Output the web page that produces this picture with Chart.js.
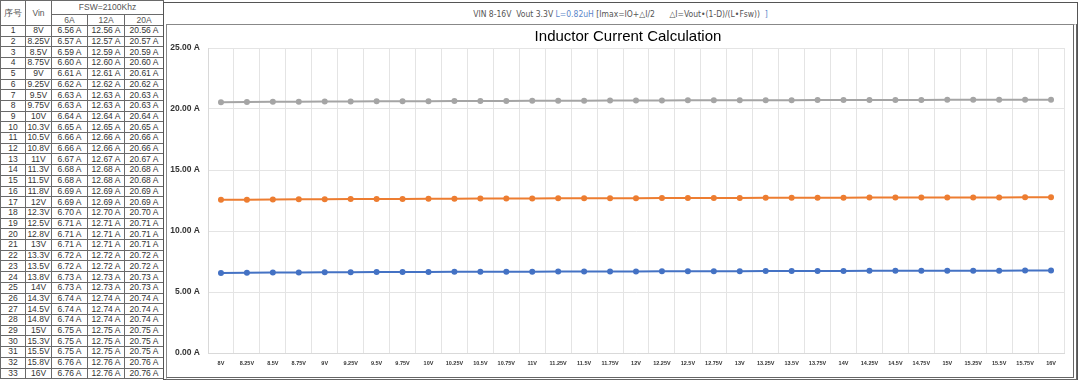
<!DOCTYPE html>
<html><head><meta charset="utf-8">
<script src="https://cdn.jsdelivr.net/npm/chart.js@4/dist/chart.umd.min.js"></script>
<style>
html,body{margin:0;padding:0;background:#fff;width:1080px;height:382px;overflow:hidden;font-family:"Liberation Sans",Arial,sans-serif;}
#tbl{position:absolute;left:0;top:0;width:163px;border-collapse:collapse;table-layout:fixed;font-size:8.5px;color:#333;}
#tbl td,#tbl th{border:1px solid #6a6a6a;padding:0;text-align:center;font-weight:normal;white-space:nowrap;overflow:hidden;line-height:9px;}
#tbl th{color:#555;}
#frame{position:absolute;left:163px;top:2px;width:915px;height:378px;box-sizing:border-box;border:1px solid #555;}
#hdr{position:absolute;left:163px;top:3px;width:915px;height:21px;line-height:22px;text-align:center;font-size:8.5px;color:#555;white-space:pre;font-family:"DejaVu Sans Condensed","Liberation Sans",sans-serif;}
#box{position:absolute;left:166px;top:24px;width:911px;height:356px;box-sizing:border-box;border:1px solid #888;border-right:4px double #666;border-bottom:3px double #666;}
#wrap{position:absolute;left:167px;top:25px;width:922px;height:352px;}
.b{color:#5b86c9;}
</style></head><body>
<table id="tbl">
<colgroup><col style="width:25px"><col style="width:26px"><col style="width:36px"><col style="width:37px"><col style="width:39px"></colgroup>
<thead>
<tr style="height:14px"><th rowspan="2">序号</th><th rowspan="2">Vin</th><th colspan="3">FSW=2100Khz</th></tr>
<tr style="height:11px" id="subhdr"></tr>
</thead>
<tbody id="tbody"></tbody>
</table>
<div id="frame"></div>
<div id="hdr">VIN 8-16V  Vout 3.3V <span class="b">L=0.82uH</span> [Imax=IO+△I/2      △I=Vout•(1-D)/(L•Fsw))  <span class="b">]</span></div>
<div id="box"></div>
<div id="wrap"><canvas id="c" width="922" height="352"></canvas></div>
<script>
// ---- data ----
const seriesNames = ['6A', '12A', '20A'];
const tableVin = ['8V','8.25V','8.5V','8.75V','9V','9.25V','9.5V','9.75V','10V','10.3V','10.5V','10.8V','11V','11.3V','11.5V','11.8V','12V','12.3V','12.5V','12.8V','13V','13.3V','13.5V','13.8V','14V','14.3V','14.5V','14.8V','15V','15.3V','15.5V','15.8V','16V'];
const chartLabels = ['8V','8.25V','8.5V','8.75V','9V','9.25V','9.5V','9.75V','10V','10.25V','10.5V','10.75V','11V','11.25V','11.5V','11.75V','12V','12.25V','12.5V','12.75V','13V','13.25V','13.5V','13.75V','14V','14.25V','14.5V','14.75V','15V','15.25V','15.5V','15.75V','16V'];
const values6A = [6.56,6.57,6.59,6.60,6.61,6.62,6.63,6.63,6.64,6.65,6.66,6.66,6.67,6.68,6.68,6.69,6.69,6.70,6.71,6.71,6.71,6.72,6.72,6.73,6.73,6.74,6.74,6.74,6.75,6.75,6.75,6.76,6.76];
const values12A = [12.56,12.57,12.59,12.60,12.61,12.62,12.63,12.63,12.64,12.65,12.66,12.66,12.67,12.68,12.68,12.69,12.69,12.70,12.71,12.71,12.71,12.72,12.72,12.73,12.73,12.74,12.74,12.74,12.75,12.75,12.75,12.76,12.76];
const values20A = [20.56,20.57,20.59,20.60,20.61,20.62,20.63,20.63,20.64,20.65,20.66,20.66,20.67,20.68,20.68,20.69,20.69,20.70,20.71,20.71,20.71,20.72,20.72,20.73,20.73,20.74,20.74,20.74,20.75,20.75,20.75,20.76,20.76];
const yTicks = [0, 5, 10, 15, 20, 25];

// ---- table ----
const sub = document.getElementById('subhdr');
seriesNames.forEach(n => { const th = document.createElement('th'); th.textContent = n; sub.appendChild(th); });
const tb = document.getElementById('tbody');
tableVin.forEach((v, i) => {
  const tr = document.createElement('tr');
  tr.style.height = '10.71px';
  const cells = [String(i + 1), v, values6A[i].toFixed(2) + ' A', values12A[i].toFixed(2) + ' A', values20A[i].toFixed(2) + ' A'];
  cells.forEach(t => { const td = document.createElement('td'); td.textContent = t; tr.appendChild(td); });
  tb.appendChild(tr);
});

// ---- chart ----
const colors = ['#4472C4', '#ED7D31', '#A5A5A5'];
const series = [values6A, values12A, values20A];
new Chart(document.getElementById('c'), {
  type: 'line',
  data: {
    labels: chartLabels,
    datasets: series.map((d, i) => ({
      label: seriesNames[i], data: d,
      borderColor: colors[i], backgroundColor: colors[i],
      pointBackgroundColor: colors[i], pointBorderColor: colors[i],
      borderWidth: 2, pointRadius: 2, pointHoverRadius: 2, tension: 0
    }))
  },
  options: {
    responsive: false, animation: false,
    layout: { padding: { left: 0, right: 0, top: 0, bottom: 0 } },
    plugins: {
      legend: { display: false },
      tooltip: { enabled: false },
      title: { display: true, text: 'Inductor Current Calculation', color: '#000',
        font: { family: '"Liberation Sans", Arial, sans-serif', size: 15, weight: 'normal' },
        padding: { top: 3, bottom: 2 } }
    },
    scales: {
      x: {
        offset: true,
        grid: { offset: true, color: '#e4e4e4', drawTicks: false, lineWidth: 1 },
        border: { color: '#d9d9d9' },
        ticks: { autoSkip: false, maxRotation: 0, minRotation: 0, padding: 7, color: '#333',
          font: { family: '"Liberation Sans", Arial, sans-serif', size: 5.5, weight: 'bold' } },
        afterFit: s => { s.height = 24; }
      },
      y: {
        min: 0, max: 25,
        afterBuildTicks: s => { s.ticks = yTicks.map(v => ({ value: v })); },
        grid: { color: '#e4e4e4', drawTicks: false },
        border: { color: '#d9d9d9' },
        ticks: { padding: 8, color: '#333', callback: v => v.toFixed(2) + ' A',
          font: { family: '"Liberation Sans", Arial, sans-serif', size: 8.5, weight: 'bold' } },
        afterFit: s => { s.width = 41; }
      },
      yRight: {
        position: 'right', min: 0, max: 25,
        grid: { display: false, drawTicks: false },
        border: { display: false },
        ticks: { display: false },
        afterFit: s => { s.width = 25; }
      }
    }
  }
});
</script>
</body></html>
